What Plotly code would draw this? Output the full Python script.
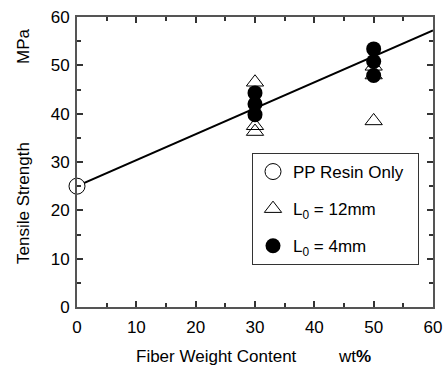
import plotly.graph_objects as go

pp_x = [0]
pp_y = [25]
l12_x = [30, 30, 30, 50, 50, 50]
l12_y = [46.5, 37.5, 36.3, 49.8, 48.0, 38.5]
l4_x = [30, 30, 30, 50, 50, 50]
l4_y = [44.3, 42.0, 39.8, 53.4, 50.8, 47.9]
fit_x = [0, 60]
fit_y = [25, 57.2]
x_ticks = [0, 10, 20, 30, 40, 50, 60]
y_ticks = [0, 10, 20, 30, 40, 50, 60]

FONT = "Liberation Sans, Arial, sans-serif"
W, H = 446, 367
L, R, T, B = 77, 13, 17, 60
PW, PH = W - L - R, H - T - B

fig = go.Figure()
fig.add_trace(go.Scatter(x=fit_x, y=fit_y, mode="lines", line=dict(color="black", width=2),
                         showlegend=False))
fig.add_trace(go.Scatter(x=l12_x, y=l12_y, mode="markers", name="L<sub>0</sub> = 12mm",
                         marker=dict(symbol="triangle-up-open", size=15, color="black", line=dict(width=1)),
                         legendgroup="b", legendrank=2, cliponaxis=False))
fig.add_trace(go.Scatter(x=l4_x, y=l4_y, mode="markers", name="L<sub>0</sub> = 4mm",
                         marker=dict(symbol="circle", size=15, color="black"),
                         legendgroup="c", legendrank=3, cliponaxis=False))
fig.add_trace(go.Scatter(x=pp_x, y=pp_y, mode="markers", name="PP Resin Only\u00a0\u00a0",
                         marker=dict(symbol="circle", size=16, color="white", line=dict(color="black", width=1)),
                         legendgroup="a", legendrank=1, cliponaxis=False))

axis_common = dict(showline=True, linecolor="#555", linewidth=2, mirror="ticks", ticks="inside",
                   ticklen=6, tickwidth=1.5, tickcolor="#333", showgrid=False, zeroline=False,
                   tickfont=dict(family=FONT, size=17, color="black"),
                   minor=dict(ticks="inside", ticklen=4, tickwidth=1.5, tickcolor="#333", dtick=5))
fig.update_xaxes(range=[0, 60], tickvals=x_ticks, ticklabelstandoff=4, **axis_common)
fig.update_yaxes(range=[0, 60], tickvals=y_ticks, ticklabelstandoff=2, **axis_common)


def px_ann(text, px, py, rot=0, size=17):
    return dict(text=text, x=(px - L) / PW, y=(H - B - py) / PH, xref="paper", yref="paper",
                showarrow=False, textangle=rot, xanchor="center", yanchor="middle",
                font=dict(family=FONT, size=size, color="black"))


fig.update_layout(
    width=W, height=H,
    margin=dict(l=L, r=R, t=T, b=B, autoexpand=False),
    plot_bgcolor="white", paper_bgcolor="white",
    font=dict(family=FONT, color="black"),
    legend=dict(x=(252 - L) / PW, y=(H - B - 153) / PH, xanchor="left", yanchor="top",
                bordercolor="#333", borderwidth=1, bgcolor="white",
                font=dict(family=FONT, size=17, color="black"),
                tracegroupgap=12, itemwidth=30, traceorder="grouped"),
    annotations=[
        px_ann("Tensile Strength", 24, 203, -90),
        px_ann("MPa", 24, 46, -90),
        px_ann("Fiber Weight Content", 216, 356),
        px_ann("wt<b>%</b>", 354, 356),
    ],
)

fig.write_html("out.html", config={"displayModeBar": False},
               post_script="document.body.style.margin='0';document.body.style.padding='0';")
